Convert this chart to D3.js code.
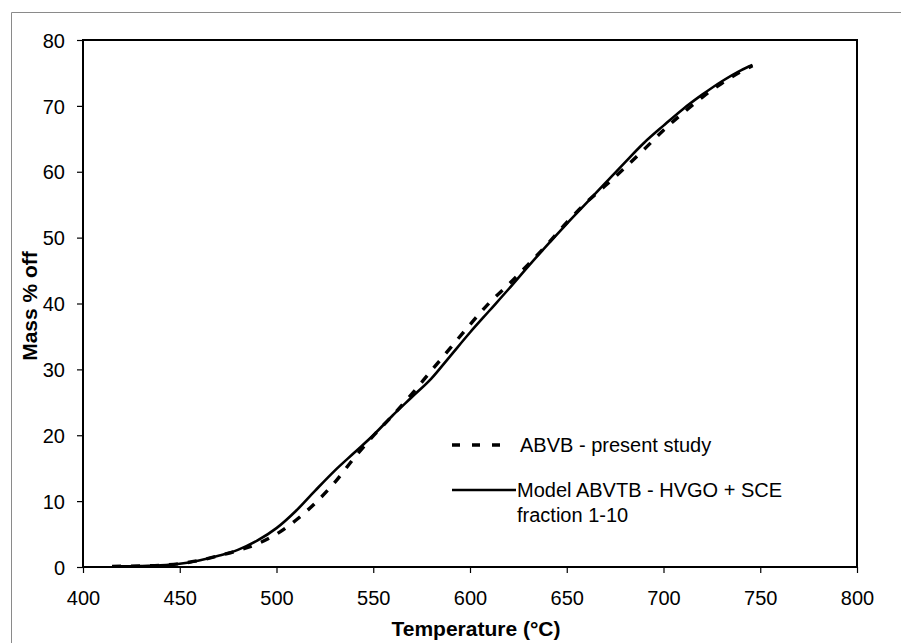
<!DOCTYPE html>
<html>
<head>
<meta charset="utf-8">
<script src="https://cdn.jsdelivr.net/npm/d3@7"></script>
<style>
  body { margin: 0; background: #fff; }
  svg { display: block; }
  text { font-family: Arial, "Liberation Sans", sans-serif; fill: #000; }
</style>
</head>
<body>
<div id="chart"></div>
<script>
// mass % off vs temperature, two curves
const temps = [415, 430, 440, 450, 460, 470, 480, 490, 500, 510, 520, 530, 540, 550, 560, 570, 580,
  590, 600, 610, 620, 630, 640, 650, 660, 670, 680, 690, 700, 710, 720, 730, 740, 746];
const abvbValues = [0.1, 0.15, 0.25, 0.5, 1.0, 1.7, 2.5, 3.5, 5.0, 7.1, 9.7, 12.8, 16.5, 19.9, 23.0, 26.3, 29.8,
  33.3, 36.8, 40.1, 42.9, 45.9, 49.0, 52.3, 55.3, 57.9, 60.6, 63.4, 66.3, 68.9, 71.3, 73.4, 75.2, 76.1];
const modelValues = [0.1, 0.15, 0.25, 0.5, 1.0, 1.7, 2.6, 4.0, 5.9, 8.5, 11.6, 14.6, 17.3, 20.0, 23.0, 25.8, 28.6,
  32.1, 35.6, 38.9, 42.2, 45.6, 48.9, 52.1, 55.2, 58.3, 61.4, 64.4, 67.0, 69.5, 71.7, 73.7, 75.4, 76.2];
const xTicks = [400, 450, 500, 550, 600, 650, 700, 750, 800];
const yTicks = [0, 10, 20, 30, 40, 50, 60, 70, 80];
const legendLabels = ["ABVB - present study", "Model ABVTB - HVGO + SCE", "fraction 1-10"];

const W = 901, H = 643;
const plot = { left: 83, right: 857, top: 40, bottom: 567 };

const svg = d3.select("#chart").append("svg").attr("width", W).attr("height", H);

// outer frame (only left and top edges visible in the picture)
svg.append("path")
  .attr("d", `M11.5,${H} V12.5 H${W}`)
  .attr("fill", "none").attr("stroke", "#8a8a8a").attr("stroke-width", 1);

const x = d3.scaleLinear().domain([400, 800]).range([plot.left, plot.right]);
const y = d3.scaleLinear().domain([0, 80]).range([plot.bottom, plot.top]);

// axes
const xAxis = svg.append("g")
  .attr("transform", `translate(0,${plot.bottom})`)
  .call(d3.axisBottom(x).tickValues(xTicks).tickSize(6).tickPadding(18).tickSizeOuter(0));
const yAxis = svg.append("g")
  .attr("transform", `translate(${plot.left},0)`)
  .call(d3.axisLeft(y).tickValues(yTicks).tickSize(6).tickPadding(12).tickSizeOuter(0));
[xAxis, yAxis].forEach(g => {
  g.select(".domain").remove();
  g.selectAll(".tick line").attr("stroke", "#000").attr("stroke-width", 1.2);
  g.selectAll(".tick text").attr("font-size", 20).attr("font-family", "Arial, 'Liberation Sans', sans-serif");
});
yAxis.selectAll(".tick text").attr("dy", "0.36em");

// plot border
svg.append("rect")
  .attr("x", plot.left).attr("y", plot.top)
  .attr("width", plot.right - plot.left).attr("height", plot.bottom - plot.top)
  .attr("fill", "none").attr("stroke", "#000").attr("stroke-width", 2);

// curves
const line = vals => d3.line()
  .x((d, i) => x(temps[i]))
  .y(d => y(d))
  .curve(d3.curveMonotoneX)(vals);

svg.append("path")
  .attr("d", line(modelValues))
  .attr("fill", "none").attr("stroke", "#000").attr("stroke-width", 2.6);

svg.append("path")
  .attr("d", line(abvbValues))
  .attr("fill", "none").attr("stroke", "#000").attr("stroke-width", 3.4)
  .attr("stroke-dasharray", "9,10");

// legend
const legend = svg.append("g");
legend.append("line")
  .attr("x1", 452).attr("x2", 503).attr("y1", 445).attr("y2", 445)
  .attr("stroke", "#000").attr("stroke-width", 3.4).attr("stroke-dasharray", "8,12");
legend.append("text").attr("x", 520).attr("y", 452).attr("font-size", 20).text(legendLabels[0]);
legend.append("line")
  .attr("x1", 452).attr("x2", 516).attr("y1", 490).attr("y2", 490)
  .attr("stroke", "#000").attr("stroke-width", 2.4);
legend.append("text").attr("x", 517).attr("y", 497).attr("font-size", 20).text(legendLabels[1]);
legend.append("text").attr("x", 517).attr("y", 522).attr("font-size", 20).text(legendLabels[2]);

// axis titles
svg.append("text")
  .attr("x", 476).attr("y", 636)
  .attr("text-anchor", "middle").attr("font-size", 21).attr("font-weight", "bold")
  .text("Temperature (°C)");
svg.append("text")
  .attr("transform", "translate(37,306) rotate(-90)")
  .attr("text-anchor", "middle").attr("font-size", 21).attr("font-weight", "bold")
  .text("Mass % off");
</script>
</body>
</html>
